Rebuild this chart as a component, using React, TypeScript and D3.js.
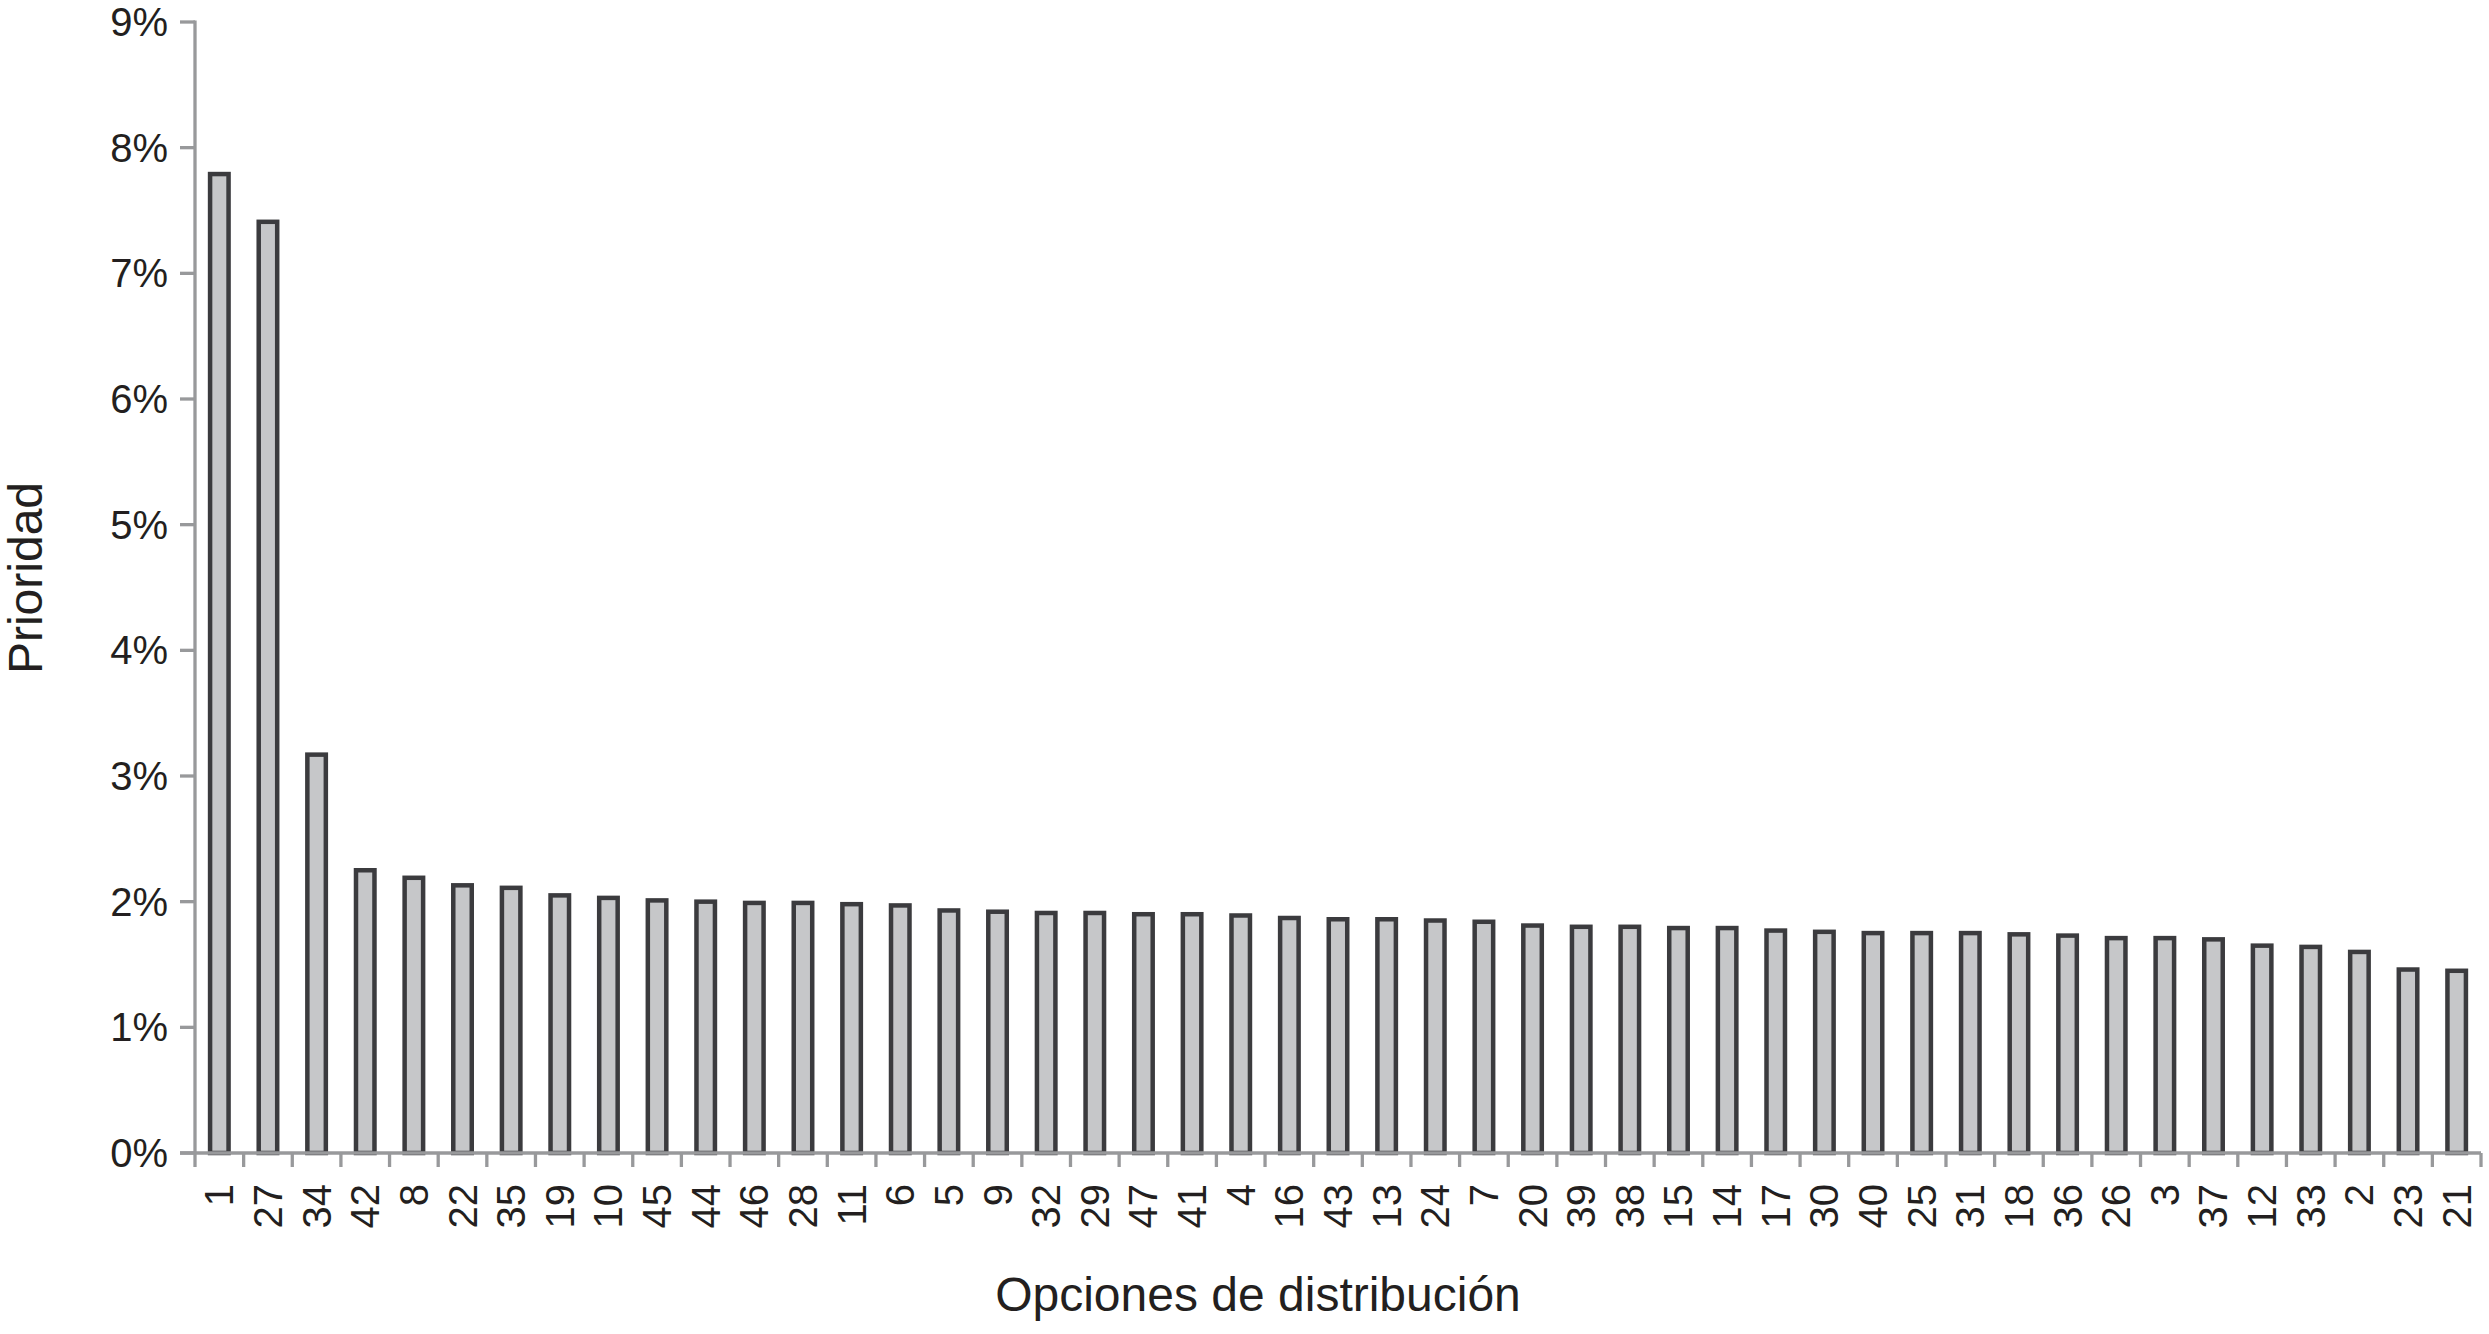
import React from "react";
import { scaleBand, scaleLinear, range } from "d3";

// distribution options, sorted by priority
const categories = [
    "1", "27", "34", "42", "8", "22", "35", "19", "10", "45", "44", "46",
    "28", "11", "6", "5", "9", "32", "29", "47", "41", "4", "16", "43",
    "13", "24", "7", "20", "39", "38", "15", "14", "17", "30", "40", "25",
    "31", "18", "36", "26", "3", "37", "12", "33", "2", "23", "21",
];
// priority in %
const priorities = [
    7.79, 7.41, 3.17, 2.25, 2.19, 2.13, 2.11, 2.05, 2.03, 2.01, 2.0, 1.99,
    1.99, 1.98, 1.97, 1.93, 1.92, 1.91, 1.91, 1.9, 1.9, 1.89, 1.87, 1.86,
    1.86, 1.85, 1.84, 1.81, 1.8, 1.8, 1.79, 1.79, 1.77, 1.76, 1.75, 1.75,
    1.75, 1.74, 1.73, 1.71, 1.71, 1.7, 1.65, 1.64, 1.6, 1.46, 1.45,
];
const yTicks = [0, 1, 2, 3, 4, 5, 6, 7, 8, 9];

const font = "'Liberation Sans', Arial, Helvetica, sans-serif";
const axisColor = "#98999b";
const textColor = "#231f20";

export default function App() {
    const width = 2489;
    const height = 1334;
    const margin = { left: 195, right: 8, top: 22, bottom: 181 };
    const x0 = margin.left;
    const x1 = width - margin.right;
    const y0 = height - margin.bottom;

    const xScale = scaleBand()
        .domain(categories)
        .range([x0, x1])
        .paddingInner(0.62)
        .paddingOuter(0.31);
    const yScale = scaleLinear().domain([0, 9]).range([y0, margin.top]);
    const step = (x1 - x0) / categories.length;

    return (
        <svg
            width={width}
            height={height}
            style={{ position: "absolute", left: 0, top: 0, background: "#fff" }}
            fontFamily={font}
        >
            {/* bars */}
            {categories.map((c, i) => (
                <rect
                    key={c}
                    x={xScale(c)}
                    y={yScale(priorities[i])}
                    width={xScale.bandwidth()}
                    height={y0 - yScale(priorities[i])}
                    fill="#c6c7c9"
                    stroke="#3b3b3e"
                    strokeWidth={4.5}
                />
            ))}

            {/* y axis */}
            <line x1={x0} x2={x0} y1={margin.top - 1.5} y2={y0} stroke={axisColor} strokeWidth={3.3} />
            {yTicks.map((t) => (
                <g key={t} transform={`translate(0,${yScale(t)})`}>
                    <line x1={x0 - 15} x2={x0} stroke={axisColor} strokeWidth={3.3} />
                    <text
                        x={x0 - 27}
                        dy="0.35em"
                        textAnchor="end"
                        fontSize={40}
                        fill={textColor}
                    >
                        {t}%
                    </text>
                </g>
            ))}

            {/* x axis */}
            <line x1={x0 - 15} x2={x1} y1={y0} y2={y0} stroke={axisColor} strokeWidth={3.3} />
            {range(categories.length + 1).map((i) => (
                <line
                    key={i}
                    x1={x0 + i * step}
                    x2={x0 + i * step}
                    y1={y0}
                    y2={y0 + 14}
                    stroke={axisColor}
                    strokeWidth={3.3}
                />
            ))}
            {categories.map((c) => (
                <text
                    key={c}
                    transform={`translate(${xScale(c) + xScale.bandwidth() / 2},${y0 + 31}) rotate(-90)`}
                    dy="0.35em"
                    textAnchor="end"
                    fontSize={40}
                    fill={textColor}
                >
                    {c}
                </text>
            ))}

            {/* axis titles */}
            <text
                transform={`translate(25,578) rotate(-90)`}
                dy="0.35em"
                textAnchor="middle"
                fontSize={48}
                fill={textColor}
            >
                Prioridad
            </text>
            <text
                x={1258}
                y={1311}
                textAnchor="middle"
                fontSize={48}
                fill={textColor}
            >
                Opciones de distribución
            </text>
        </svg>
    );
}
